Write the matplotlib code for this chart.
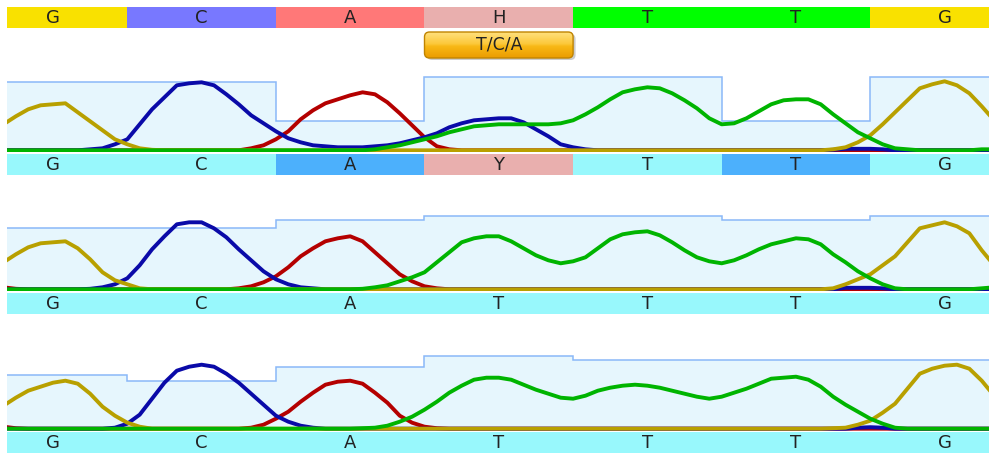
import numpy as np
import matplotlib
matplotlib.use("Agg")
import matplotlib.pyplot as plt
from matplotlib.patches import FancyBboxPatch
from matplotlib.colors import LinearSegmentedColormap

# ---------------------------------------------------------------- data
consensus = ["G", "C", "A", "H", "T", "T", "G"]
variant_index = 3
variant_label = "T/C/A"

read1_calls = ["G", "C", "A", "Y", "T", "T", "G"]
read2_calls = ["G", "C", "A", "T", "T", "T", "G"]
read3_calls = ["G", "C", "A", "T", "T", "T", "G"]

# call state per base: ok / low quality / mixed peak
read1_state = ["ok", "ok", "low", "mixed", "ok", "low", "ok"]
read2_state = ["ok", "ok", "ok", "ok", "ok", "ok", "ok"]
read3_state = ["ok", "ok", "ok", "ok", "ok", "ok", "ok"]

# quality per base call
read1_quality = [68, 68, 29, 73, 73, 29, 73]
read2_quality = [61, 61, 69, 73, 73, 69, 73]
read3_quality = [54, 48, 62, 73, 69, 69, 69]

# scan index of each base call
call_scan = [4, 16, 28, 40, 52, 64, 76]

# trace intensities per scan (81 scans)
read1_A = ([0] * 20
           + [2, 5, 11, 19, 31, 40, 47, 51, 55, 58]
           + [56, 48, 37, 25, 13, 4, 1, 0, 0, 0]
           + [0] * 41)
read1_C = ([0, 0, 0, 0, 0, 0, 0, 1, 2, 6]
           + [11, 26, 41, 53, 65, 67, 68, 65, 56, 46]
           + [35, 27, 19, 12, 8, 5, 4, 3, 3, 3]
           + [4, 5, 7, 10, 13, 17, 23, 27, 30, 31]
           + [32, 32, 28, 21, 14, 6, 3, 1, 0, 0]
           + [0] * 17 + [0.5, 1.5, 1.5, 1.5, 1]
           + [0] * 9)
read1_G = ([26, 34, 41, 45, 46, 47, 38, 29, 20, 11]
           + [6, 2, 0.5] + [0] * 54
           + [1, 3, 8]
           + [15, 26, 38, 50, 62, 66, 69, 65, 57, 44, 30])
read1_T = ([0] * 30
           + [1, 3, 5, 8, 11, 14, 18, 21, 24, 25]
           + [26, 26, 26, 26, 26, 27, 30, 36, 43, 51]
           + [58, 61, 63, 62, 57, 50, 42, 32, 26, 27]
           + [32, 39, 46, 50, 51, 51, 46, 36, 27, 18]
           + [12, 6, 2, 1, 0, 0, 0, 0, 0, 1, 1])

read2_A = ([2, 0.5] + [0] * 17 + [1]
           + [3, 7, 13, 22, 33, 41, 48, 51, 53, 48]
           + [37, 26, 15, 8, 3, 1, 0, 0, 0, 0]
           + [0] * 41)
read2_C = ([0, 0, 0, 0, 0, 0, 0, 0.5, 2, 5]
           + [11, 24, 40, 53, 65, 67, 67, 61, 52, 40]
           + [29, 18, 10, 5, 2, 1, 0, 0, 0, 0]
           + [0] * 38 + [1.5, 1.5, 1.5, 1]
           + [0] * 9)
read2_G = ([27, 35, 42, 46, 47, 48, 41, 30, 17, 9]
           + [5, 1] + [0] * 55
           + [1, 5, 10]
           + [15, 24, 33, 47, 61, 64, 67, 63, 56, 39, 24])
read2_T = ([0] * 29 + [0.5]
           + [2, 4, 8, 12, 17, 27, 37, 47, 51, 53]
           + [53, 48, 41, 34, 29, 26, 28, 32, 41, 50]
           + [55, 57, 58, 54, 47, 39, 32, 28, 26, 29]
           + [34, 40, 45, 48, 51, 50, 45, 35, 27, 18]
           + [11, 5, 1, 0, 0, 0, 0, 0, 0, 1, 2])

read3_A = ([2, 0.5] + [0] * 18
           + [1, 4, 10, 17, 27, 36, 44, 47, 48, 45]
           + [36, 26, 13, 6, 2, 0.5, 0, 0, 0, 0]
           + [0] * 41)
read3_C = ([0, 0, 0, 0, 0, 0, 0, 0, 0, 1]
           + [5, 14, 30, 46, 58, 62, 64, 62, 55, 46]
           + [35, 24, 13, 7, 3, 1, 0, 0, 0, 0]
           + [0] * 39 + [1, 1.5, 1]
           + [0] * 9)
read3_G = ([23, 31, 38, 42, 46, 48, 45, 35, 22, 13]
           + [6, 2] + [0] * 55
           + [0.5, 1, 4]
           + [8, 16, 25, 40, 55, 60, 63, 64, 60, 48, 33])
read3_T = ([0] * 29 + [0.5]
           + [1, 3, 7, 12, 19, 27, 36, 43, 49, 51]
           + [51, 49, 44, 39, 35, 31, 30, 33, 38, 41]
           + [43, 44, 43, 41, 38, 35, 32, 30, 32, 36]
           + [40, 45, 50, 51, 52, 49, 42, 32, 24, 17]
           + [10, 5, 1, 0, 0, 0, 0, 0, 0, 0, 0])

reads = [
    (read1_calls, read1_state, read1_quality, read1_A, read1_C, read1_G, read1_T),
    (read2_calls, read2_state, read2_quality, read2_A, read2_C, read2_G, read2_T),
    (read3_calls, read3_state, read3_quality, read3_A, read3_C, read3_G, read3_T),
]

# ---------------------------------------------------------------- style
W, H, DPI = 990, 454, 100
X_LEFT, X_RIGHT = 7, 989
SCAN_LIM = (0.285, 79.587)
BASELINES = [150.3, 289.3, 428.7]
LABEL_BARS = [(153.5, 175.3), (292.7, 314.0), (432.0, 453.2)]

base_colors = {"G": "#f9e100", "C": "#7878ff", "A": "#ff7878",
               "T": "#00ff00", "H": "#e9afae"}
state_colors = {"ok": "#98f8fc", "low": "#4cb0fc", "mixed": "#e9afae"}
trace_colors = {"A": "#b40000", "C": "#0a0aa8", "G": "#b8a000", "T": "#00b400"}
text_color = "#222222"
qual_fill = "#e6f6fd"
qual_edge = "#8ab8f8"

plt.rcParams["font.family"] = ["DejaVu Sans"]

fig = plt.figure(figsize=(W / DPI, H / DPI), dpi=DPI)
fig.patch.set_facecolor("white")


def px_axes(x0, y0, x1, y1):
    ax = fig.add_axes([x0 / W, 1 - y1 / H, (x1 - x0) / W, (y1 - y0) / H])
    ax.set_axis_off()
    ax.set_xlim(*SCAN_LIM)
    return ax


call_scan = np.asarray(call_scan, dtype=float)
spacing = np.diff(call_scan).mean()
edges = np.r_[call_scan[0] - spacing / 2,
              (call_scan[:-1] + call_scan[1:]) / 2,
              call_scan[-1] + spacing / 2]
scans = np.arange(len(read1_A))

# consensus bar
ax_top = px_axes(X_LEFT, 7.3, X_RIGHT, 28.3)
ax_top.set_ylim(0, 1)
ax_top.bar(call_scan, 1, width=spacing, color=[base_colors[b] for b in consensus],
           linewidth=0)
for x, b in zip(call_scan, consensus):
    ax_top.text(x, 0.47, b, ha="center", va="center", fontsize=13, color=text_color)

# variant badge
ax_badge = px_axes(X_LEFT, 28, X_RIGHT, 64)
ax_badge.set_ylim(0, 36)
bx0 = call_scan[variant_index] - spacing / 2
bw = spacing
px_per_scan = (X_RIGHT - X_LEFT) / (SCAN_LIM[1] - SCAN_LIM[0])
radius = 5 / px_per_scan
style = f"round,pad=0,rounding_size={radius:.4f}"
shadow = FancyBboxPatch((bx0 + 2.5 / px_per_scan, 4.0), bw, 26, boxstyle=style,
                        mutation_aspect=px_per_scan, facecolor="black", alpha=0.2,
                        edgecolor="none")
ax_badge.add_patch(shadow)
badge = FancyBboxPatch((bx0, 6), bw, 26, boxstyle=style,
                       mutation_aspect=px_per_scan, facecolor="none",
                       edgecolor="#c08400", linewidth=1.0, zorder=3)
ax_badge.add_patch(badge)
grad_cmap = LinearSegmentedColormap.from_list(
    "badge", [(0.0, "#eb9c00"), (0.45, "#f8b816"), (0.55, "#fcc83a"), (1.0, "#ffe07e")])
grad = np.linspace(0, 1, 64).reshape(-1, 1)
img = ax_badge.imshow(grad, cmap=grad_cmap, origin="lower", aspect="auto",
                      extent=[bx0, bx0 + bw, 6, 32], zorder=2)
img.set_clip_path(badge)
ax_badge.text(call_scan[variant_index], 19.5, variant_label, ha="center", va="center",
              fontsize=12.5, color=text_color, zorder=4)
ax_badge.set_xlim(*SCAN_LIM)
ax_badge.set_ylim(0, 36)

# traces
for (calls, state, qual, tA, tC, tG, tT), base, (ly0, ly1) in zip(reads, BASELINES, LABEL_BARS):
    ax = px_axes(X_LEFT, base - 82, X_RIGHT, base + 2)
    ax.set_ylim(-2, 82)
    ax.stairs(qual, edges, baseline=0, fill=True, color=qual_fill, zorder=1)
    ax.stairs(qual, edges, baseline=None, color=qual_edge, linewidth=1.1, zorder=2)
    for ch, tr in (("A", tA), ("C", tC), ("G", tG), ("T", tT)):
        ax.plot(scans, tr, color=trace_colors[ch], linewidth=2.8,
                solid_joinstyle="round", solid_capstyle="round", zorder=3)
    ax.set_xlim(*SCAN_LIM)

    axl = px_axes(X_LEFT, ly0, X_RIGHT, ly1)
    axl.set_ylim(0, 1)
    axl.bar(call_scan, 1, width=spacing, color=[state_colors[s] for s in state],
            linewidth=0)
    for x, b in zip(call_scan, calls):
        axl.text(x, 0.47, b, ha="center", va="center", fontsize=13, color=text_color)

fig.savefig("out.png", dpi=DPI, facecolor="white")
